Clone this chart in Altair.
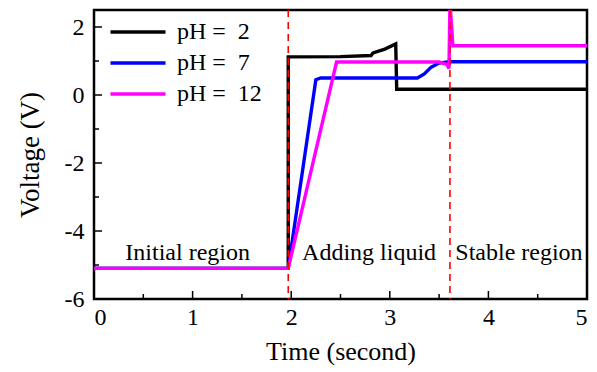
import altair as alt
import pandas as pd

# Voltage traces for the three pH solutions (time in seconds, voltage in V)
t_ph2 = [0.0, 1.97, 1.97, 2.50, 2.81, 2.83, 2.95, 3.06, 3.07, 3.60, 5.0]
v_ph2 = [-5.10, -5.10, 1.12, 1.13, 1.16, 1.24, 1.35, 1.50, 0.17, 0.17, 0.17]

t_ph7 = [0.0, 1.97, 2.25, 2.30, 3.28, 3.35, 3.42, 3.50, 3.60, 5.0]
v_ph7 = [-5.10, -5.10, 0.45, 0.50, 0.50, 0.62, 0.82, 0.94, 0.98, 0.98]

t_ph12 = [0.0, 1.97, 2.46, 3.50, 3.58, 3.60, 3.61, 3.64, 3.70, 5.0]
v_ph12 = [-5.10, -5.10, 0.97, 0.97, 0.90, 0.78, 2.70, 1.45, 1.45, 1.45]

series_names = ["pH =\u00a0\u00a02", "pH =\u00a0\u00a07", "pH =\u00a0\u00a012"]
series_colors = ["#000000", "#0000ff", "#ff00ff"]

# Region boundaries and labels
boundaries = [1.97, 3.61]
region_labels = ["Initial region", "Adding liquid", "Stable region"]
region_x = [0.95, 2.79, 4.31]
region_y = [-4.65, -4.65, -4.65]

# Axis tick positions
x_major = [0, 1, 2, 3, 4, 5]
x_minor = [0.5, 1.5, 2.5, 3.5, 4.5]
y_major = [-6, -4, -2, 0, 2]
y_minor = [-5, -3, -1, 1]

FONT = "Liberation Serif"
W, H = 493, 289

rows = []
for name, ts, vs in zip(series_names, [t_ph2, t_ph7, t_ph12], [v_ph2, v_ph7, v_ph12]):
    for i, (t, v) in enumerate(zip(ts, vs)):
        rows.append({"series": name, "t": t, "v": v, "i": i})
df = pd.DataFrame(rows)

xscale = alt.Scale(domain=[0, 5], nice=False, zero=False)
yscale = alt.Scale(domain=[-6, 2.5], nice=False, zero=False)

plain_label = "'' + datum.value"

x_axis = alt.Axis(values=x_major, ticks=False, domain=False, grid=False,
                  labelExpr=plain_label,
                  labelFont=FONT, labelFontSize=24, labelColor="black",
                  labelPadding=6, title="Time (second)", titleFont=FONT,
                  titleFontSize=26, titleFontWeight="normal", titleColor="black",
                  titlePadding=9)
y_axis = alt.Axis(values=y_major, ticks=False, domain=False, grid=False,
                  labelExpr=plain_label,
                  labelFont=FONT, labelFontSize=24, labelColor="black",
                  labelPadding=10, title="Voltage (V)", titleFont=FONT,
                  titleFontSize=27, titleFontWeight="normal", titleColor="black",
                  titlePadding=20)

# Legend symbol: a long horizontal stroke drawn as a custom path
LEG_PATH = "M-5,0H5"
LEG_SIZE = 121  # sqrt(size)/2 * 10 -> 55 px long line

lines = alt.Chart(df).mark_line(strokeWidth=3.4, clip=True).encode(
    x=alt.X("t:Q", scale=xscale, axis=x_axis),
    y=alt.Y("v:Q", scale=yscale, axis=y_axis),
    color=alt.Color(
        "series:N",
        scale=alt.Scale(domain=series_names, range=series_colors),
        legend=alt.Legend(
            title=None, orient="none", legendX=32, legendY=10,
            symbolType=LEG_PATH, symbolSize=LEG_SIZE, symbolStrokeWidth=3.6,
            labelFont=FONT, labelFontSize=24, labelColor="black",
            labelOffset=27, rowPadding=7, padding=0,
        ),
    ),
    order="i:Q",
)

bounds = alt.Chart(pd.DataFrame({"x": boundaries})).mark_rule(
    color="#ff0000", strokeWidth=1.6, strokeDash=[7, 5]
).encode(x=alt.X("x:Q", scale=xscale), y=alt.value(0), y2=alt.value(H))

labels = alt.Chart(pd.DataFrame({"label": region_labels, "x": region_x, "y": region_y})).mark_text(
    font=FONT, fontSize=24, color="black", baseline="middle", align="center"
).encode(x=alt.X("x:Q", scale=xscale), y=alt.Y("y:Q", scale=yscale), text="label:N")

xt_major = alt.Chart(pd.DataFrame({"x": x_major})).mark_rule(color="black", strokeWidth=1.5).encode(
    x=alt.X("x:Q", scale=xscale), y=alt.value(H), y2=alt.value(H - 8))
xt_minor = alt.Chart(pd.DataFrame({"x": x_minor})).mark_rule(color="black", strokeWidth=1.5).encode(
    x=alt.X("x:Q", scale=xscale), y=alt.value(H), y2=alt.value(H - 5))
yt_major = alt.Chart(pd.DataFrame({"y": y_major})).mark_rule(color="black", strokeWidth=1.5).encode(
    y=alt.Y("y:Q", scale=yscale), x=alt.value(0), x2=alt.value(8))
yt_minor = alt.Chart(pd.DataFrame({"y": y_minor})).mark_rule(color="black", strokeWidth=1.5).encode(
    y=alt.Y("y:Q", scale=yscale), x=alt.value(0), x2=alt.value(5))

chart = alt.layer(lines, bounds, labels, xt_major, xt_minor, yt_major, yt_minor).properties(
    width=W, height=H,
    background="white",
    autosize=alt.AutoSizeParams(type="none"),
    padding={"left": 94, "top": 10, "right": 10, "bottom": 73},
).configure_view(stroke="black", strokeWidth=2.5)

chart.save("out.html", embed_options={"renderer": "svg", "actions": False})
